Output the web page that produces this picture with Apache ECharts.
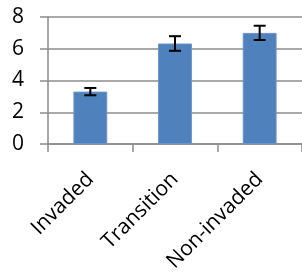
<!DOCTYPE html>
<html>
<head>
<meta charset="utf-8">
<script src="https://cdn.jsdelivr.net/npm/echarts@6/dist/echarts.min.js"></script>
<style>
  html, body { margin: 0; padding: 0; background: #fff; }
  #chart { width: 302px; height: 276px; }
</style>
</head>
<body>
<div id="chart"></div>
<script>
// data
const categories = ['Invaded', 'Transition', 'Non-invaded']
const means = [3.3, 6.33, 7.0]
const errors = [0.23, 0.46, 0.45]
const yTicks = [0, 2, 4, 6, 8]

const gridColor = '#8c8c8c'
const fontFamily = '"Open Sans", "Liberation Sans", sans-serif'

const chart = echarts.init(document.getElementById('chart'))

chart.setOption({
  animation: false,
  grid: { left: 48, top: 17, width: 255, bottom: 132, containLabel: false },
  xAxis: {
    type: 'category',
    data: categories,
    axisLine: { lineStyle: { color: gridColor, width: 1.5 } },
    axisTick: { show: true, length: 8, lineStyle: { color: gridColor, width: 1.5 } },
    axisLabel: {
      rotate: 45,
      interval: 0,
      margin: 32,
      color: '#000',
      fontSize: 21,
      fontFamily: fontFamily
    }
  },
  yAxis: {
    type: 'value',
    min: yTicks[0],
    max: yTicks[yTicks.length - 1],
    interval: 2,
    axisLine: { show: true, lineStyle: { color: gridColor, width: 1.5 } },
    axisTick: { show: true, length: 8, lineStyle: { color: gridColor, width: 1.5 } },
    splitLine: { lineStyle: { color: gridColor, width: 1.5 } },
    axisLabel: {
      margin: 24,
      color: '#000',
      fontSize: 21,
      fontFamily: fontFamily
    }
  },
  series: [
    {
      type: 'bar',
      data: means,
      barWidth: '40%',
      itemStyle: { color: '#4f81bd', borderColor: '#6a95c9', borderWidth: 1 }
    },
    {
      type: 'custom',
      data: means.map((m, i) => [i, m - errors[i], m + errors[i]]),
      z: 5,
      renderItem: (params, api) => {
        const lo = api.coord([api.value(0), api.value(1)])
        const hi = api.coord([api.value(0), api.value(2)])
        const cap = 6
        const style = { stroke: '#000', lineWidth: 2 }
        return {
          type: 'group',
          children: [
            { type: 'line', shape: { x1: hi[0], y1: hi[1], x2: lo[0], y2: lo[1] }, style },
            { type: 'line', shape: { x1: hi[0] - cap, y1: hi[1], x2: hi[0] + cap, y2: hi[1] }, style },
            { type: 'line', shape: { x1: lo[0] - cap, y1: lo[1], x2: lo[0] + cap, y2: lo[1] }, style }
          ]
        }
      }
    }
  ]
})
</script>
</body>
</html>
